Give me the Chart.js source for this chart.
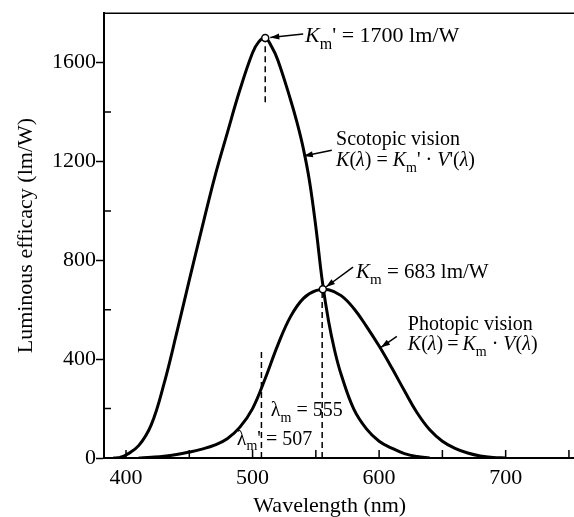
<!DOCTYPE html>
<html>
<head>
<meta charset="utf-8">
<script src="https://cdn.jsdelivr.net/npm/chart.js@4.4.0/dist/chart.umd.min.js"></script>
<style>
  html, body { margin: 0; padding: 0; background: #fff; }
</style>
</head>
<body>
<canvas id="chart" width="574" height="517"></canvas>
<script>
const SERIF = '"Liberation Serif", "Times New Roman", serif';

// scotopic curve, K'm * V'(lambda)
const scotopicWavelength = [390, 395, 400, 410, 420, 430, 440, 450, 460, 470, 480, 490, 500, 505, 510, 515, 520, 530, 535, 540, 545, 550, 555, 560, 565, 570, 580, 590, 600, 610, 620, 630, 640];
const scotopicEfficacy   = [0, 2, 12, 50, 135, 300, 505, 720, 930, 1135, 1315, 1490, 1640, 1685, 1700, 1665, 1610, 1450, 1360, 1255, 1120, 935, 720, 555, 432, 338, 198, 118, 68, 40, 18, 6, 0];

// photopic curve, Km * V(lambda)
const photopicWavelength = [410, 420, 430, 440, 450, 460, 470, 480, 490, 500, 510, 520, 530, 540, 550, 560, 570, 580, 590, 600, 610, 620, 630, 640, 650, 660, 670, 680, 690, 700];
const photopicEfficacy   = [0, 3, 7, 14, 24, 36, 52, 78, 125, 200, 322, 458, 572, 645, 677, 681, 657, 605, 533, 453, 365, 272, 183, 114, 68, 39, 20, 8, 2, 0];

const xTickValues = [400, 500, 600, 700];
const xMinorTicks = [400, 450, 500, 550, 600, 650, 700, 750];
const yTickValues = [0, 400, 800, 1200, 1600];
const yMinorTicks = [200, 600, 1000, 1400];

const peakScotopic = { x: 510, y: 1700 };
const peakPhotopic = { x: 555.5, y: 683 };

const toXY = (xs, ys) => xs.map((x, i) => ({ x, y: ys[i] }));

// annotation layout, in data units
const labels = [
  { x: 541.5, y: 1682, size: 22, runs: [{ t: 'K', i: true }, { t: 'm', sub: true }, { t: "' = 1700 lm/W" }] },
  { x: 566, y: 1268, size: 20, runs: [{ t: 'Scotopic vision' }] },
  { x: 566, y: 1180, size: 20, runs: [{ t: 'K', i: true }, { t: '(' }, { t: 'λ', i: true }, { t: ') = ' }, { t: 'K', i: true }, { t: 'm', sub: true }, { t: "' · " }, { t: 'V', i: true }, { t: "'(" }, { t: 'λ', i: true }, { t: ')' }] },
  { x: 581.8, y: 728, size: 21, runs: [{ t: 'K', i: true }, { t: 'm', sub: true }, { t: ' = 683 lm/W' }] },
  { x: 622.7, y: 520, size: 20, runs: [{ t: 'Photopic vision' }] },
  { x: 622.7, y: 436, size: 20, runs: [{ t: 'K', i: true }, { t: '(' }, { t: 'λ', i: true }, { t: ')\u2009=\u2009' }, { t: 'K', i: true }, { t: 'm', sub: true }, { t: ' · ' }, { t: 'V', i: true }, { t: '(' }, { t: 'λ', i: true }, { t: ')' }] },
  { x: 514.4, y: 168, size: 20, runs: [{ t: 'λ' }, { t: 'm', sub: true }, { t: ' = 555' }] },
  { x: 487.5, y: 54, size: 20, runs: [{ t: 'λ' }, { t: 'm', sub: true }, { t: "' = 507" }] }
];
const arrows = [
  { from: [540, 1716], to: [514, 1702] },
  { from: [562.6, 1245], to: [540.5, 1222] },
  { from: [579.4, 772], to: [558, 692] },
  { from: [614, 492], to: [601.5, 448] }
];
const dashes = [
  { x: 510, y0: 1440, y1: 1685 },
  { x: 507, y0: 0, y1: 445 },
  { x: 555, y0: 0, y1: 675 }
];

function drawRuns(ctx, runs, x, y, size) {
  let cx = x;
  ctx.textBaseline = 'alphabetic';
  ctx.textAlign = 'left';
  runs.forEach(r => {
    const s = r.sub ? Math.round(size * 0.72) : size;
    ctx.font = (r.i ? 'italic ' : '') + s + 'px ' + SERIF;
    ctx.fillText(r.t, cx, r.sub ? y + size * 0.28 : y);
    cx += ctx.measureText(r.t).width;
  });
}

const axisDecor = {
  id: 'axisDecor',
  afterDatasetsDraw(chart) {
    const { ctx, chartArea: a, scales: { x, y } } = chart;
    ctx.save();
    ctx.strokeStyle = '#000';
    ctx.lineWidth = 1.5;
    ctx.beginPath();
    ctx.moveTo(a.left, a.top);
    ctx.lineTo(a.right, a.top);
    xMinorTicks.forEach(v => {
      const px = x.getPixelForValue(v);
      ctx.moveTo(px, a.bottom);
      ctx.lineTo(px, a.bottom - 8);
    });
    yMinorTicks.forEach(v => {
      const py = y.getPixelForValue(v);
      ctx.moveTo(a.left, py);
      ctx.lineTo(a.left + 7, py);
    });
    ctx.stroke();

    // x axis title, centred under the full (uncropped) axis
    ctx.fillStyle = '#000';
    ctx.font = '22px ' + SERIF;
    ctx.textAlign = 'center';
    ctx.textBaseline = 'middle';
    ctx.fillText('Wavelength (nm)', x.getPixelForValue(561), chart.height - 11);
    ctx.restore();
  }
};

const annotations = {
  id: 'annotations',
  afterDatasetsDraw(chart) {
    const { ctx, scales: { x, y } } = chart;
    ctx.save();
    ctx.strokeStyle = '#000';
    ctx.fillStyle = '#000';

    // dashed guides
    ctx.lineWidth = 1.5;
    ctx.setLineDash([6, 4]);
    dashes.forEach(d => {
      const px = x.getPixelForValue(d.x);
      ctx.beginPath();
      ctx.moveTo(px, y.getPixelForValue(d.y0));
      ctx.lineTo(px, y.getPixelForValue(d.y1));
      ctx.stroke();
    });
    ctx.setLineDash([]);

    // arrows
    arrows.forEach(ar => {
      const x1 = x.getPixelForValue(ar.from[0]), y1 = y.getPixelForValue(ar.from[1]);
      const x2 = x.getPixelForValue(ar.to[0]), y2 = y.getPixelForValue(ar.to[1]);
      const ang = Math.atan2(y2 - y1, x2 - x1);
      ctx.lineWidth = 1.5;
      ctx.beginPath();
      ctx.moveTo(x1, y1);
      ctx.lineTo(x2, y2);
      ctx.stroke();
      ctx.beginPath();
      ctx.moveTo(x2, y2);
      ctx.lineTo(x2 - 9 * Math.cos(ang) + 3 * Math.sin(ang), y2 - 9 * Math.sin(ang) - 3 * Math.cos(ang));
      ctx.lineTo(x2 - 9 * Math.cos(ang) - 3 * Math.sin(ang), y2 - 9 * Math.sin(ang) + 3 * Math.cos(ang));
      ctx.closePath();
      ctx.fill();
    });

    // open circles at the two maxima
    [peakScotopic, peakPhotopic].forEach(p => {
      ctx.beginPath();
      ctx.arc(x.getPixelForValue(p.x), y.getPixelForValue(p.y), 3.5, 0, Math.PI * 2);
      ctx.fillStyle = '#fff';
      ctx.fill();
      ctx.lineWidth = 1.5;
      ctx.stroke();
    });

    ctx.fillStyle = '#000';
    labels.forEach(l => drawRuns(ctx, l.runs, x.getPixelForValue(l.x), y.getPixelForValue(l.y), l.size));
    ctx.restore();
  }
};

const curveStyle = {
  borderColor: '#000',
  borderWidth: 3,
  pointRadius: 0,
  fill: false,
  tension: 0.4
};

new Chart(document.getElementById('chart'), {
  type: 'line',
  data: {
    datasets: [
      { label: 'Scotopic vision', data: toXY(scotopicWavelength, scotopicEfficacy), ...curveStyle },
      { label: 'Photopic vision', data: toXY(photopicWavelength, photopicEfficacy), ...curveStyle }
    ]
  },
  options: {
    responsive: false,
    animation: false,
    devicePixelRatio: 1,
    layout: { padding: { top: 8, right: 0, bottom: 0, left: 0 } },
    plugins: { legend: { display: false }, tooltip: { enabled: false } },
    scales: {
      x: {
        type: 'linear',
        min: 382.6,
        max: 754,
        afterBuildTicks: s => { s.ticks = xTickValues.map(v => ({ value: v })); },
        afterFit: s => { s.height = 59; },
        grid: { display: false, drawTicks: false },
        border: { display: true, color: '#000', width: 2 },
        ticks: { color: '#000', font: { family: SERIF, size: 22 }, padding: 7, maxRotation: 0, autoSkip: false, callback: v => String(v) }
      },
      y: {
        min: 0,
        max: 1800,
        afterBuildTicks: s => { s.ticks = yTickValues.map(v => ({ value: v })); },
        afterFit: s => { s.width = 104; },
        grid: { drawOnChartArea: false, drawTicks: true, tickLength: 8, tickColor: '#000', tickWidth: 1.5 },
        border: { display: true, color: '#000', width: 2 },
        ticks: { color: '#000', font: { family: SERIF, size: 22 }, padding: 0, callback: v => String(v) },
        title: {
          display: true,
          text: 'Luminous efficacy (lm/W)',
          color: '#000',
          font: { family: SERIF, size: 22, lineHeight: 1 },
          padding: { top: 15, bottom: 0 }
        }
      }
    }
  },
  plugins: [axisDecor, annotations]
});
</script>
</body>
</html>
